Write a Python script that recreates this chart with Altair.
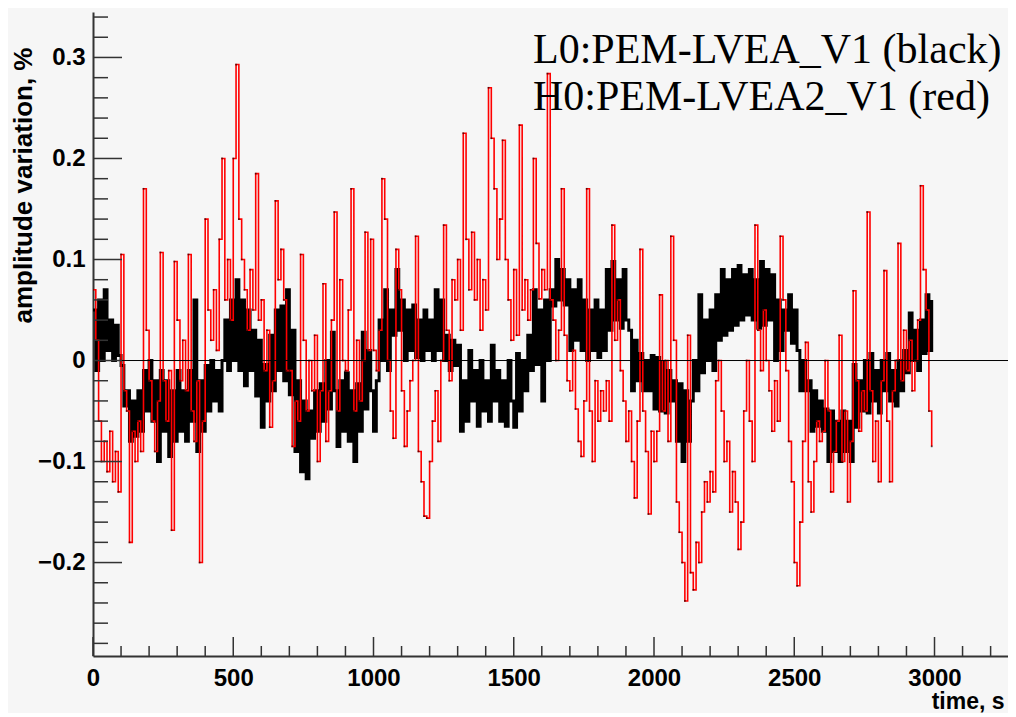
import altair as alt
import pandas as pd

STEP = 10

# H0:PEM-LVEA2_V1 (red) - one value every 10 s, t = 0 .. 2990
red_h0 = [
    0.07, 0.02, -0.06, -0.10, -0.08, -0.11, -0.07, -0.12, -0.09, -0.13,
    0.105, -0.03, -0.05, -0.18, -0.07, -0.10, -0.06, -0.09, 0.17, 0.03,
    -0.02, -0.06, -0.09, -0.04, 0.107, -0.02, -0.06, -0.01, -0.168, 0.098,
    0.04, -0.02, 0.02, -0.03, 0.105, -0.05, -0.08, -0.02, -0.20, -0.06,
    0.14, 0.05, 0.02, 0.07, 0.01, 0.12, 0.20, 0.06, 0.10, 0.04,
    0.20, 0.293, 0.14, 0.10, 0.07, 0.03, 0.09, 0.05, 0.185, 0.04,
    0.06, -0.01, 0.03, -0.066, -0.02, 0.158, 0.08, 0.11, 0.06, -0.01,
    -0.01, -0.085, -0.04, -0.06, 0.105, 0.02, -0.05, 0.0, -0.03, 0.025,
    -0.10, -0.03, 0.076, -0.08, -0.03, 0.04, 0.147, -0.05, 0.08, 0.0,
    -0.01, 0.05, 0.17, -0.05, 0.02, -0.04, 0.0, 0.127, 0.01, 0.12,
    0.01, -0.01, 0.03, 0.18, 0.14, 0.0, -0.05, -0.077, 0.11, 0.07,
    -0.03, -0.085, -0.05, -0.02, 0.0, 0.123, -0.09, -0.12, -0.154, -0.156,
    -0.10, -0.06, -0.03, -0.08, 0.0, 0.134, 0.03, -0.02, 0.08, 0.06,
    0.10, 0.03, 0.225, 0.12, 0.07, 0.127, 0.06, 0.10, 0.03, 0.08,
    0.05, 0.27, 0.22, 0.17, 0.10, 0.14, 0.218, 0.10, 0.06, 0.02,
    0.09, 0.025, 0.233, 0.05, 0.08, 0.04, 0.07, 0.20, 0.116, 0.061,
    0.09, 0.07, 0.284, 0.06, 0.04, 0.0, 0.03, 0.17, 0.025, -0.02,
    -0.03, 0.01, -0.048, -0.08, -0.095, -0.04, 0.17, -0.05, -0.10, -0.02,
    -0.06, -0.03, -0.05, -0.02, -0.06, 0.134, 0.02, 0.06, -0.01, -0.04,
    -0.08, -0.05, -0.10, -0.136, -0.06, 0.11, -0.05, -0.09, -0.152, -0.07,
    -0.10, -0.07, 0.065, -0.05, 0.0, -0.08, 0.123, 0.02, -0.14, -0.17,
    -0.20, -0.238, 0.025, -0.21, -0.227, -0.18, -0.20, -0.15, -0.12, -0.14,
    -0.11, -0.13, -0.02, 0.0, -0.05, -0.10, -0.08, -0.15, -0.11, -0.14,
    -0.187, -0.16, -0.05, 0.0, -0.06, -0.10, 0.134, 0.03, -0.01, 0.05,
    0.0, -0.03, -0.07, -0.02, -0.06, 0.123, 0.06, -0.01, -0.08, -0.12,
    -0.20, -0.223, -0.16, -0.08, 0.018, -0.12, -0.15, -0.10, -0.06, -0.08,
    -0.07, 0.0, -0.05, -0.13, -0.09, -0.06, 0.025, -0.10, -0.05, -0.14,
    -0.08, 0.069, -0.02, -0.07, -0.03, -0.05, 0.147, -0.03, -0.10, -0.06,
    -0.12, -0.02, 0.089, -0.06, -0.12, -0.03, 0.0, 0.116, -0.02, 0.03,
    -0.01, 0.02, -0.03, 0.0, 0.04, 0.173, 0.09, 0.05, -0.05, -0.085,
]

# L0:PEM-LVEA_V1 (black) - one value every 10 s, t = 0 .. 2990
black_l0 = [
    0.05, -0.01, 0.06, 0.0, 0.07, 0.01, 0.04, 0.0, 0.035, 0.005,
    -0.005, -0.045, -0.03, -0.08, -0.04, -0.075, -0.03, -0.07, -0.01, -0.05,
    0.0, -0.06, -0.02, -0.10, -0.01, -0.07, -0.02, -0.095, -0.03, -0.08,
    -0.01, -0.07, -0.03, -0.08, -0.01, -0.06, 0.06, -0.09, -0.02, -0.07,
    -0.005, -0.05, 0.0, -0.04, -0.01, -0.05, 0.0, 0.04, -0.01, 0.06,
    0.0, 0.08, -0.01, 0.06, -0.025, 0.05, -0.01, 0.03, -0.035, 0.02,
    -0.066, -0.004, -0.04, 0.025, -0.03, 0.05, -0.01, 0.054, -0.02, 0.07,
    -0.034, 0.03, -0.09, -0.02, -0.11, -0.04, -0.117, -0.05, -0.077, -0.03,
    -0.07, -0.023, -0.06, 0.0, -0.048, 0.028, -0.03, -0.085, -0.02, -0.07,
    -0.012, -0.08, -0.03, -0.10, -0.023, -0.07, 0.028, -0.048, 0.01, -0.03,
    -0.07, -0.02, 0.04, 0.0, 0.07, -0.01, 0.05, 0.025, 0.09, 0.03,
    0.06, 0.0, 0.05, 0.01, 0.055, 0.003, 0.04, 0.0, 0.05, 0.01,
    0.04, 0.0, 0.07, 0.01, 0.06, 0.0, 0.025, -0.01, 0.02, -0.005,
    0.015, -0.07, -0.02, -0.06, 0.01, -0.04, -0.01, -0.065, 0.0, -0.05,
    -0.02, -0.06, 0.015, -0.04, -0.01, -0.06, -0.02, -0.065, 0.0, -0.04,
    -0.066, 0.007, -0.05, 0.0, -0.03, 0.025, -0.01, 0.07, -0.004, 0.05,
    -0.04, 0.06, 0.0, 0.07, 0.054, 0.10, 0.06, 0.09, 0.055, 0.08,
    0.01, 0.07, 0.02, 0.08, 0.01, 0.06, 0.0, 0.05, 0.01, 0.06,
    0.003, 0.05, 0.01, 0.09, 0.03, 0.098, 0.04, 0.08, 0.032, 0.09,
    0.04, 0.03, -0.03, 0.02, -0.02, 0.007, -0.03, 0.0, -0.03, 0.005,
    -0.048, 0.003, -0.05, -0.001, -0.052, -0.01, -0.04, -0.02, -0.08, -0.023,
    -0.10, -0.03, -0.08, -0.04, 0.0, -0.03, 0.065, -0.012, 0.04, 0.0,
    0.05, -0.01, 0.065, 0.02, 0.09, 0.025, 0.08, 0.03, 0.09, 0.035,
    0.094, 0.04, 0.085, 0.045, 0.09, 0.04, 0.08, 0.032, 0.098, 0.035,
    0.09, 0.04, 0.085, 0.0, 0.06, 0.01, 0.05, 0.03, 0.065, 0.017,
    0.05, 0.01, -0.03, 0.0, -0.03, -0.02, -0.07, -0.03, -0.065, -0.04,
    -0.07, -0.048, -0.10, -0.05, -0.09, -0.06, -0.10, -0.05, -0.09, -0.06,
    -0.10, -0.004, -0.066, -0.02, -0.05, 0.0, -0.052, 0.007, -0.04, -0.01,
    -0.052, 0.0, -0.03, 0.007, -0.04, -0.01, -0.045, 0.0, -0.03, 0.01,
    -0.012, 0.047, 0.0, 0.03, -0.01, 0.04, 0.007, 0.065, 0.01, 0.06,
]

x_major = [0, 500, 1000, 1500, 2000, 2500, 3000]
y_major = [-0.2, -0.1, 0.0, 0.1, 0.2, 0.3]
x_minor = [v for v in range(100, 3300, 100) if v % 500 != 0]
y_minor = [round(-0.28 + 0.02 * i, 2) for i in range(32)]
y_minor = [v for v in y_minor if abs(round(v * 10) - v * 10) > 1e-6]

legend_lines = ["L0:PEM-LVEA_V1 (black)", "H0:PEM-LVEA2_V1 (red)"]
x_title = "time, s"
y_title = "amplitude variation, %"

W, H = 915, 644
X_DOMAIN = [0, 3262]
Y_DOMAIN = [-0.2925, 0.345]

df_red = pd.DataFrame({"t": [i * STEP for i in range(len(red_h0))], "v": red_h0})
df_black = pd.DataFrame({"t": [i * STEP for i in range(len(black_l0))], "v": black_l0})

xs = alt.Scale(domain=X_DOMAIN, nice=False, zero=False)
ys = alt.Scale(domain=Y_DOMAIN, nice=False, zero=False)

AX_FONT = "Liberation Sans"

x_axis = alt.Axis(
    values=x_major, format="d", title=x_title, ticks=False, grid=False,
    domainColor="#333333", domainWidth=2,
    labelFont=AX_FONT, labelFontWeight="bold", labelFontSize=24, labelColor="black",
    labelPadding=10, labelFlush=False, labelOverlap=False,
    titleFont=AX_FONT, titleFontWeight="bold", titleFontSize=23, titleColor="black",
    titleAnchor="end", titleAlign="right", titleBaseline="alphabetic",
    titleX=W - 4, titleY=52,
)
y_axis = alt.Axis(
    values=y_major, format=".1~f", title=y_title, ticks=False, grid=False,
    domainColor="#333333", domainWidth=2,
    labelFont=AX_FONT, labelFontWeight="bold", labelFontSize=24, labelColor="black",
    labelPadding=8, labelFlush=False, labelOverlap=False,
    titleFont=AX_FONT, titleFontWeight="bold", titleFontSize=26, titleColor="black",
    titleAngle=270, titleAlign="center", titleBaseline="middle",
    titleX=-70, titleY=173,
)

X = alt.X("t:Q", scale=xs, axis=x_axis, title=x_title)
Y = alt.Y("v:Q", scale=ys, axis=y_axis, title=y_title)

black_line = alt.Chart(df_black).mark_line(
    color="black", strokeWidth=3.0, interpolate="step-after", clip=True
).encode(x=X, y=Y)

red_line = alt.Chart(df_red).mark_line(
    color="#ff0000", strokeWidth=1.6, interpolate="step-after", clip=True
).encode(x=X, y=Y)

red_dots = alt.Chart(df_red).mark_square(
    size=3, color="black", opacity=0.6, clip=True
).encode(x=X, y=Y)

zero_line = alt.Chart(pd.DataFrame({"v": [0.0]})).mark_rule(
    color="black", strokeWidth=1
).encode(y=Y)

tick_color = "#333333"
y_major_ticks = alt.Chart(pd.DataFrame({"v": y_major})).mark_rule(
    color=tick_color, strokeWidth=1.5
).encode(y=Y, x=alt.value(0), x2=alt.value(29))
y_minor_ticks = alt.Chart(pd.DataFrame({"v": y_minor})).mark_rule(
    color=tick_color, strokeWidth=1.5
).encode(y=Y, x=alt.value(0), x2=alt.value(15))
x_major_ticks = alt.Chart(pd.DataFrame({"t": x_major})).mark_rule(
    color=tick_color, strokeWidth=1.5
).encode(x=X, y=alt.value(H), y2=alt.value(H - 19))
x_minor_ticks = alt.Chart(pd.DataFrame({"t": x_minor})).mark_rule(
    color=tick_color, strokeWidth=1.5
).encode(x=X, y=alt.value(H), y2=alt.value(H - 10))

legend1 = alt.Chart(pd.DataFrame({"label": [legend_lines[0]]})).mark_text(
    font="Liberation Serif", fontSize=42, color="black", align="left", baseline="alphabetic"
).encode(x=alt.value(440), y=alt.value(51), text="label:N")
legend2 = alt.Chart(pd.DataFrame({"label": [legend_lines[1]]})).mark_text(
    font="Liberation Serif", fontSize=42, color="black", align="left", baseline="alphabetic"
).encode(x=alt.value(440), y=alt.value(98), text="label:N")

chart = alt.layer(
    black_line, red_line, red_dots, zero_line,
    y_major_ticks, y_minor_ticks, x_major_ticks, x_minor_ticks,
    legend1, legend2,
).properties(
    width=W, height=H,
    padding={"left": 85, "top": 4, "right": 0, "bottom": 57},
    autosize=alt.AutoSizeParams(type="none"),
    background="#f6f6f6",
).configure_view(stroke=None)

chart.save("out.html", embed_options={"renderer": "svg", "actions": False})
